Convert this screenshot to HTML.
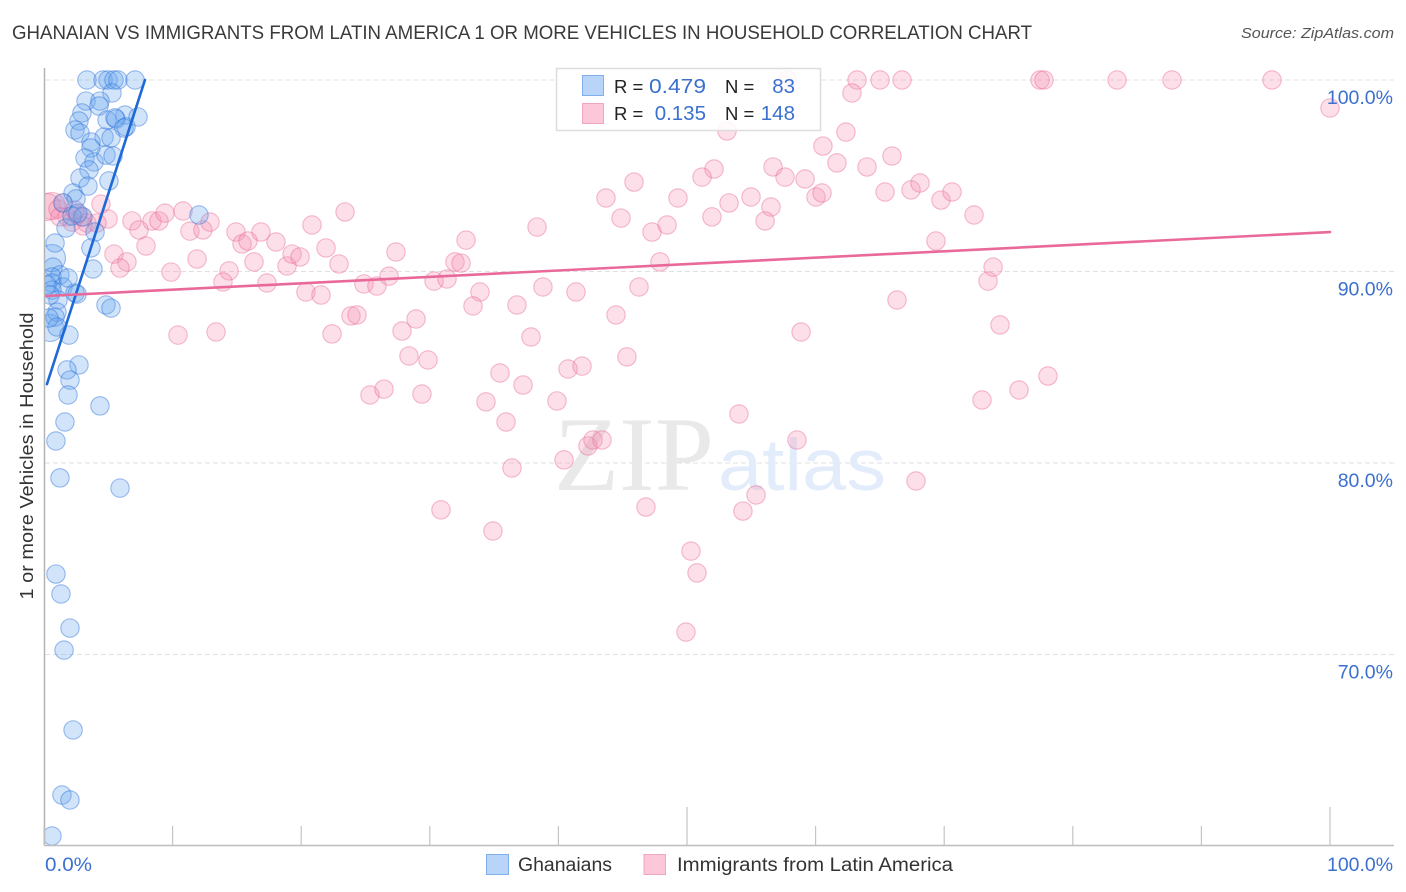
<!DOCTYPE html>
<html lang="en">
<head>
<meta charset="utf-8">
<title>Ghanaian vs Immigrants from Latin America 1 or More Vehicles in Household Correlation Chart</title>
<style>
html,body{margin:0;padding:0;background:#fff;}
svg{display:block;font-family:"Liberation Sans",sans-serif;}
</style>
</head>
<body>
<svg id="chart" xmlns="http://www.w3.org/2000/svg" width="1406" height="892" viewBox="0 0 1406 892">
  <defs>
    <clipPath id="plot-clip"><rect x="45" y="60" width="1361" height="785"/></clipPath>
  </defs>
  <rect x="0" y="0" width="1406" height="892" fill="#ffffff"/>
  <text x="12" y="39" font-size="19" fill="#3a3a3a" textLength="1020" lengthAdjust="spacingAndGlyphs">GHANAIAN VS IMMIGRANTS FROM LATIN AMERICA 1 OR MORE VEHICLES IN HOUSEHOLD CORRELATION CHART</text>
  <text x="1394" y="38" font-size="15" font-style="italic" fill="#555555" text-anchor="end" textLength="153" lengthAdjust="spacingAndGlyphs">Source: ZipAtlas.com</text>
  <g id="grid"></g>
  <g>
    <text x="554" y="490" font-family="'Liberation Serif',serif" font-size="106" fill="#e9e9e9" textLength="160" lengthAdjust="spacingAndGlyphs">ZIP</text>
    <text x="718" y="490" font-size="73" fill="#e3ecfa" textLength="168" lengthAdjust="spacingAndGlyphs">atlas</text>
  </g>
  <g id="pink-points" clip-path="url(#plot-clip)"></g>
  <g id="blue-points" clip-path="url(#plot-clip)"></g>
  <line id="blue-line" stroke="#1f69d6" stroke-width="2.6" stroke-linecap="round"/>
  <line id="pink-line" stroke="#e96a9a" stroke-width="2.6" stroke-linecap="round"/>
  <g id="axes">
    <line x1="44.5" y1="68" x2="44.5" y2="845" stroke="#b4b4b4" stroke-width="1.5"/>
    <line x1="44" y1="845.5" x2="1394" y2="845.5" stroke="#bdbdbd" stroke-width="1.5"/>
  </g>
  <g id="y-labels"></g>
  <text x="45" y="871" font-size="19.5" fill="#3b70cf" textLength="47" lengthAdjust="spacingAndGlyphs">0.0%</text>
  <text x="1393" y="871" font-size="19.5" fill="#3b70cf" text-anchor="end" textLength="66" lengthAdjust="spacingAndGlyphs">100.0%</text>
  <text transform="translate(33,456) rotate(-90)" font-size="18.5" fill="#333333" text-anchor="middle" textLength="287" lengthAdjust="spacingAndGlyphs">1 or more Vehicles in Household</text>
  <g>
    <rect x="556.5" y="68.5" width="264" height="62" fill="#ffffff" fill-opacity="0.86" stroke="#dddddd" stroke-width="1.5"/>
    <rect x="582.5" y="75.5" width="21" height="20" fill="#b8d4f8" stroke="#7fb0ec"/>
    <rect x="582.5" y="103.5" width="21" height="20" fill="#fcc8d9" stroke="#f2a5bf"/>
    <text x="614" y="93" font-size="18.5" fill="#222222">R =</text>
    <text x="649" y="93" font-size="20.5" fill="#3b70cf" textLength="57" lengthAdjust="spacingAndGlyphs">0.479</text>
    <text x="725" y="93" font-size="18.5" fill="#222222">N =</text>
    <text x="795" y="93" font-size="20.5" fill="#3b70cf" text-anchor="end">83</text>
    <text x="614" y="120" font-size="18.5" fill="#222222">R =</text>
    <text x="706" y="120" font-size="20.5" fill="#3b70cf" text-anchor="end">0.135</text>
    <text x="725" y="120" font-size="18.5" fill="#222222">N =</text>
    <text x="795" y="120" font-size="20.5" fill="#3b70cf" text-anchor="end">148</text>
  </g>
  <g>
    <rect x="486.5" y="854.5" width="22" height="20" fill="#b8d4f8" stroke="#7fb0ec"/>
    <text x="518" y="871" font-size="19" fill="#333333" textLength="94" lengthAdjust="spacingAndGlyphs">Ghanaians</text>
    <rect x="644" y="854.5" width="21.5" height="20" fill="#fcc8d9" stroke="#f2a5bf"/>
    <text x="677" y="871" font-size="19" fill="#333333" textLength="276" lengthAdjust="spacingAndGlyphs">Immigrants from Latin America</text>
  </g>
</svg>
<script>
const yTickValues = [100, 90, 80, 70];
const yTickLabels = ['100.0%', '90.0%', '80.0%', '70.0%'];
const xTickValues = [0, 10, 20, 30, 40, 50, 60, 70, 80, 90, 100];
const xMajorTicks = [50, 100];

const blueX = [3.34,4.59,4.98,5.44,5.75,7.08,5.29,3.27,4.35,4.28,2.95,2.72,2.41,2.80,6.30,4.90,5.60,5.52,7.31,6.38,6.22,4.67,5.21,3.65,3.65,3.19,3.89,4.82,5.37,3.50,2.80,3.42,5.05,2.26,2.49,1.48,1.71,3.97,3.65,3.81,0.86,0.70,1.24,0.62,0.62,1.48,0.62,2.41,2.57,1.09,1.01,0.86,1.01,1.94,4.82,5.21,2.72,1.79,2.02,1.87,4.35,1.63,0.93,1.24,5.91,0.93,1.32,2.02,1.56,2.26,1.40,2.02,12.05,2.18,3.03,2.64,0.62,0.23,0.39,1.87,0.47];
const blueY = [100,100,100,100,100,100,99.32,98.90,98.90,98.64,98.28,97.86,97.39,97.23,98.17,97.91,97.96,98.02,98.07,97.55,97.49,97.02,96.97,96.76,96.45,95.93,95.72,96.08,96.03,95.30,94.88,94.46,94.73,94.10,93.79,93.58,92.27,92.06,91.23,90.13,91.49,90.23,89.82,89.71,89.40,89.19,89.03,88.88,88.82,88.51,87.88,87.62,87.10,86.68,88.25,88.09,85.12,84.86,84.33,83.55,82.98,82.14,81.15,79.22,78.69,74.20,73.16,71.38,70.23,66.06,62.66,62.40,92.95,92.90,92.85,93.05,60.52,89.30,87.57,89.66,88.77];
const blueLargeX = [0.62,0.47];
const blueLargeY = [90.70,87.05];

const pinkX = [63.22,65.01,66.72,77.45,77.76,83.44,87.71,95.49,100,62.83,53.11,62.36,60.57,65.94,61.66,64.00,56.69,52.10,51.17,57.62,59.18,45.88,43.70,49.30,44.87,47.28,48.45,53.27,51.94,54.98,56.53,56.07,60.03,60.50,65.40,67.42,68.12,69.75,70.61,72.32,69.36,38.34,23.41,20.84,32.82,27.37,21.93,22.94,16.87,14.93,15.40,15.86,18.04,16.33,14.39,13.92,11.90,9.88,7.93,5.44,6.45,5.91,10.42,13.38,4.43,4.98,1.09,1.79,2.57,2.95,3.34,4.12,1.48,6.84,7.39,8.40,8.94,9.41,10.81,11.35,12.36,12.91,17.34,18.90,19.29,19.91,20.37,21.54,22.40,23.87,24.34,24.88,25.89,26.83,25.35,26.44,29.39,28.38,27.84,28.93,29.86,30.33,31.34,31.96,32.43,33.90,33.36,36.78,37.87,38.80,41.37,44.48,46.27,47.90,45.33,35.46,34.37,37.25,39.89,40.75,41.84,35.93,36.39,40.44,42.30,42.69,43.39,30.87,34.91,46.81,50.31,50.78,49.92,54.35,55.37,54.04,58.55,58.87,66.33,67.81,72.94,75.82,78.07,74.34,73.41,73.80,2.18,3.03,1.24,2.41,57.78];
const pinkY = [100,100,100,100,100,100,100,100,98.54,99.32,97.34,97.28,96.55,96.03,95.67,95.46,95.46,95.35,94.93,94.93,94.83,94.67,93.84,93.84,92.79,92.06,92.43,93.58,92.85,93.89,93.37,92.64,93.89,94.10,94.15,94.26,94.62,93.73,94.15,92.95,91.59,92.32,93.11,92.43,91.64,91.02,91.23,90.39,92.06,92.06,91.44,91.59,91.54,90.50,90.03,89.45,90.65,89.97,91.33,90.91,90.50,90.18,86.68,86.84,93.52,92.74,93.26,92.85,92.95,92.85,92.53,92.53,93.58,92.64,92.17,92.64,92.64,93.05,93.16,92.11,92.17,92.58,89.40,90.29,90.91,90.76,88.93,88.77,86.74,87.68,87.73,89.35,89.24,89.76,83.55,83.86,83.60,85.59,86.89,87.52,85.38,89.50,89.61,90.50,90.44,88.93,88.20,88.25,86.58,89.19,88.93,87.73,89.19,90.50,85.54,84.70,83.19,84.07,83.24,84.91,85.06,82.14,79.74,80.16,80.89,81.20,81.20,77.55,76.45,77.70,75.40,74.26,71.17,77.49,78.33,82.56,81.20,86.84,88.51,79.06,83.29,83.81,84.54,87.21,89.50,90.23,92.58,92.38,92.85,93.21,100];
const pinkLargeX = [0.62,0.23];
const pinkLargeY = [93.42,93.37];

const blueTrendX = [0.23, 7.85];
const blueTrendY = [84.12, 100];
const pinkTrendX = [0.16, 100];
const pinkTrendY = [88.72, 92.06];

const NS = 'http://www.w3.org/2000/svg';
function xScale(v) { return 44 + v * 12.86; }
function yScale(v) { return 80 + (100 - v) * 19.15; }

const grid = document.getElementById('grid');
yTickValues.forEach(function (t) {
  const l = document.createElementNS(NS, 'line');
  
  
  l.setAttribute('x1', 45);
  l.setAttribute('x2', 1394);
  l.setAttribute('y1', yScale(t));
  l.setAttribute('y2', yScale(t));
  l.setAttribute('stroke', '#e0e0e0');
  l.setAttribute('stroke-dasharray', '5 3');
  grid.appendChild(l);
});

const yLabels = document.getElementById('y-labels');
yTickValues.forEach(function (t, i) {
  const el = document.createElementNS(NS, 'text');
  
  
  el.setAttribute('x', 1393);
  el.setAttribute('y', yScale(t) + 24);
  el.setAttribute('font-size', '19.5');
  el.setAttribute('fill', '#3b70cf');
  el.setAttribute('text-anchor', 'end');
  el.textContent = yTickLabels[i];
  yLabels.appendChild(el);
});

const axes = document.getElementById('axes');
xTickValues.forEach(function (t) {
  const tick = document.createElementNS(NS, 'line');
  
  
  tick.setAttribute('x1', xScale(t));
  tick.setAttribute('x2', xScale(t));
  tick.setAttribute('y1', xMajorTicks.indexOf(t) >= 0 ? 807 : 826);
  tick.setAttribute('y2', 845);
  tick.setAttribute('stroke', '#c4c4c4');
  tick.setAttribute('stroke-width', '1.2');
  axes.appendChild(tick);
});

function drawPoints(groupId, xs, ys, radius, fill, stroke, name) {
  const g = document.getElementById(groupId);
  xs.forEach(function (x, i) {
    const c = document.createElementNS(NS, 'circle');
    
    
    c.setAttribute('cx', xScale(x));
    c.setAttribute('cy', yScale(ys[i]));
    c.setAttribute('r', radius);
    c.setAttribute('fill', fill);
    c.setAttribute('stroke', stroke);
    c.setAttribute('stroke-width', '1.1');
    g.appendChild(c);
  });
}
const pinkFill = 'rgba(246,150,182,0.3)';
const pinkStroke = 'rgba(228,95,140,0.42)';
const blueFill = 'rgba(105,165,238,0.3)';
const blueStroke = 'rgba(40,110,215,0.45)';
drawPoints('pink-points', pinkLargeX, pinkLargeY, 13.5, pinkFill, pinkStroke, 'immigrants-point');
drawPoints('pink-points', pinkX, pinkY, 9.2, pinkFill, pinkStroke, 'immigrants-point');
drawPoints('blue-points', blueLargeX, blueLargeY, 13.5, blueFill, blueStroke, 'ghanaians-point');
drawPoints('blue-points', blueX, blueY, 9.2, blueFill, blueStroke, 'ghanaians-point');

function setLine(id, xs, ys) {
  const l = document.getElementById(id);
  l.setAttribute('x1', xScale(xs[0]));
  l.setAttribute('y1', yScale(ys[0]));
  l.setAttribute('x2', xScale(xs[1]));
  l.setAttribute('y2', yScale(ys[1]));
}
setLine('blue-line', blueTrendX, blueTrendY);
setLine('pink-line', pinkTrendX, pinkTrendY);
</script>
</body>
</html>
